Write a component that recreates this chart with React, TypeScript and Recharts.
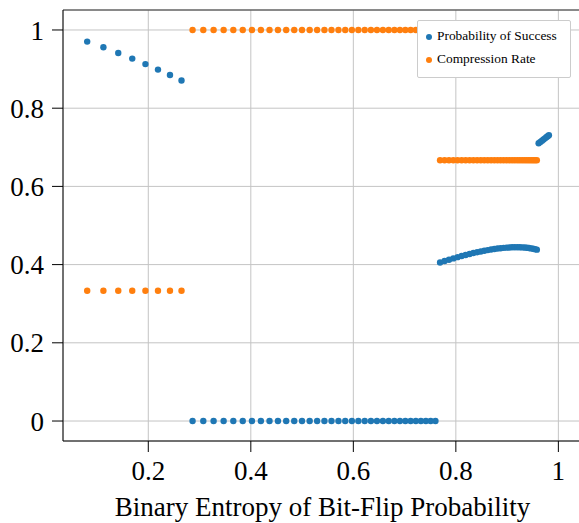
import React from "react";
import {
  ScatterChart,
  Scatter,
  XAxis,
  YAxis,
  CartesianGrid,
  Legend,
  ReferenceLine,
} from "recharts";

// Binary entropy of the bit-flip probability (x positions of the points)
const entropy = [
  0.0808, 0.1124, 0.1414, 0.1687, 0.1944, 0.2189, 0.2423, 0.2648,
  0.2864, 0.3073, 0.3274, 0.347, 0.3659, 0.3843, 0.4022, 0.4196, 0.4365, 0.4529,
  0.469, 0.4847, 0.4999, 0.5148, 0.5294, 0.5436, 0.5574, 0.571, 0.5842, 0.5972,
  0.6098, 0.6222, 0.6343, 0.6461, 0.6577, 0.669, 0.6801, 0.6909, 0.7015, 0.7118,
  0.7219, 0.7318, 0.7415, 0.7509, 0.7602,
  0.7692, 0.778, 0.7866, 0.7951, 0.8033, 0.8113, 0.8191, 0.8268, 0.8342, 0.8415,
  0.8486, 0.8555, 0.8622, 0.8687, 0.8751, 0.8813, 0.8873, 0.8932, 0.8989, 0.9044,
  0.9097, 0.9149, 0.92, 0.9248, 0.9295, 0.9341, 0.9385, 0.9427, 0.9468, 0.9507,
  0.9544, 0.958,
  0.9615, 0.9648, 0.968, 0.971, 0.9738, 0.9765, 0.9791, 0.9815,
];

// Probability of Success
const successProb = [
  0.9703, 0.9557, 0.9412, 0.9268, 0.9127, 0.8987, 0.8847, 0.871,
  0, 0, 0, 0, 0, 0, 0, 0, 0, 0, 0, 0, 0, 0, 0, 0, 0, 0, 0, 0, 0, 0, 0, 0, 0, 0,
  0, 0, 0, 0, 0, 0, 0, 0, 0,
  0.4054, 0.4091, 0.4126, 0.4159, 0.419, 0.4219, 0.4246, 0.4271, 0.4295, 0.4317,
  0.4336, 0.4355, 0.4371, 0.4386, 0.4399, 0.441, 0.442, 0.4428, 0.4434, 0.4439,
  0.4442, 0.4444, 0.4444, 0.4443, 0.444, 0.4436, 0.4431, 0.4424, 0.4415, 0.4406,
  0.4395, 0.4382,
  0.7103, 0.7137, 0.7169, 0.72, 0.7229, 0.7257, 0.7283, 0.7308,
];

// Compression Rate
const compressionRate = [
  0.3333, 0.3333, 0.3333, 0.3333, 0.3333, 0.3333, 0.3333, 0.3333,
  1, 1, 1, 1, 1, 1, 1, 1, 1, 1, 1, 1, 1, 1, 1, 1, 1, 1, 1, 1, 1, 1, 1, 1, 1, 1,
  1, 1, 1, 1, 1, 1, 1, 1, 1,
  0.6667, 0.6667, 0.6667, 0.6667, 0.6667, 0.6667, 0.6667, 0.6667, 0.6667, 0.6667,
  0.6667, 0.6667, 0.6667, 0.6667, 0.6667, 0.6667, 0.6667, 0.6667, 0.6667, 0.6667,
  0.6667, 0.6667, 0.6667, 0.6667, 0.6667, 0.6667, 0.6667, 0.6667, 0.6667, 0.6667,
  0.6667, 0.6667,
  1, 1, 1, 1, 1, 1, 1, 1,
];

const xTicks = [0.2, 0.4, 0.6, 0.8, 1];
const yTicks = [0, 0.2, 0.4, 0.6, 0.8, 1];
const seriesNames = ["Probability of Success", "Compression Rate"];

const BLUE = "#1f77b4";
const ORANGE = "#ff7f0e";
const FONT = "'Liberation Serif', 'Times New Roman', serif";

const X_DOMAIN: [number, number] = [0.0336, 1.0461];
const Y_DOMAIN: [number, number] = [-0.0511, 1.0511];

const successData = entropy.map((x, i) => ({ x, y: successProb[i] }));
const rateData = entropy.map((x, i) => ({ x, y: compressionRate[i] }));

const dot = (color: string) => (props: any) => (
  <circle cx={props.cx} cy={props.cy} r={3.2} fill={color} />
);

const LegendBox = () => (
  <div
    style={{
      background: "#fff",
      border: "1px solid #cccccc",
      borderRadius: 2,
      boxSizing: "border-box",
      width: 154,
      height: 58,
      padding: "3px 0 0 7px",
      fontFamily: FONT,
      fontSize: 13.4,
      color: "#000",
    }}
  >
    {seriesNames.map((name, i) => (
      <div
        key={name}
        style={{ display: "flex", alignItems: "center", height: 23, whiteSpace: "nowrap" }}
      >
        <svg width={12} height={12} style={{ marginTop: 3 }}>
          <circle cx={4} cy={6} r={3} fill={i === 0 ? BLUE : ORANGE} />
        </svg>
        <span>{name}</span>
      </div>
    ))}
  </div>
);

export default function App() {
  return (
    <div
      style={{
        position: "absolute",
        left: 0,
        top: 0,
        width: 579,
        height: 523,
        overflow: "hidden",
        background: "#fff",
      }}
    >
      <ScatterChart
        width={590}
        height={523}
        margin={{ top: 10, right: 8, bottom: 0, left: 0 }}
      >
        <CartesianGrid stroke="#c4c4c4" strokeWidth={1} />
        <XAxis
          type="number"
          dataKey="x"
          domain={X_DOMAIN}
          allowDataOverflow
          ticks={xTicks}
          height={82}
          tickSize={11}
          tickMargin={9}
          axisLine={{ stroke: "#000" }}
          tickLine={{ stroke: "#000" }}
          tick={{ fill: "#000", fontSize: 27, fontFamily: FONT }}
          label={{
            value: "Binary Entropy of Bit-Flip Probability",
            position: "insideBottom",
            offset: 7,
            fill: "#000",
            fontSize: 27,
            fontFamily: FONT,
          }}
        />
        <YAxis
          type="number"
          dataKey="y"
          domain={Y_DOMAIN}
          allowDataOverflow
          ticks={yTicks}
          width={63}
          tickSize={11}
          tickMargin={8}
          axisLine={{ stroke: "#000" }}
          tickLine={{ stroke: "#000" }}
          tick={{ fill: "#000", fontSize: 27, fontFamily: FONT }}
        />
        <ReferenceLine y={Y_DOMAIN[1]} stroke="#333" strokeWidth={1.2} />
        <Scatter
          name={seriesNames[0]}
          data={successData}
          fill={BLUE}
          shape={dot(BLUE)}
          isAnimationActive={false}
        />
        <Scatter
          name={seriesNames[1]}
          data={rateData}
          fill={ORANGE}
          shape={dot(ORANGE)}
          isAnimationActive={false}
        />
        <Legend
          layout="vertical"
          align="center"
          verticalAlign="middle"
          content={<LegendBox />}
          wrapperStyle={{ left: 417, top: 20, width: 154, height: 58 }}
        />
      </ScatterChart>
    </div>
  );
}
